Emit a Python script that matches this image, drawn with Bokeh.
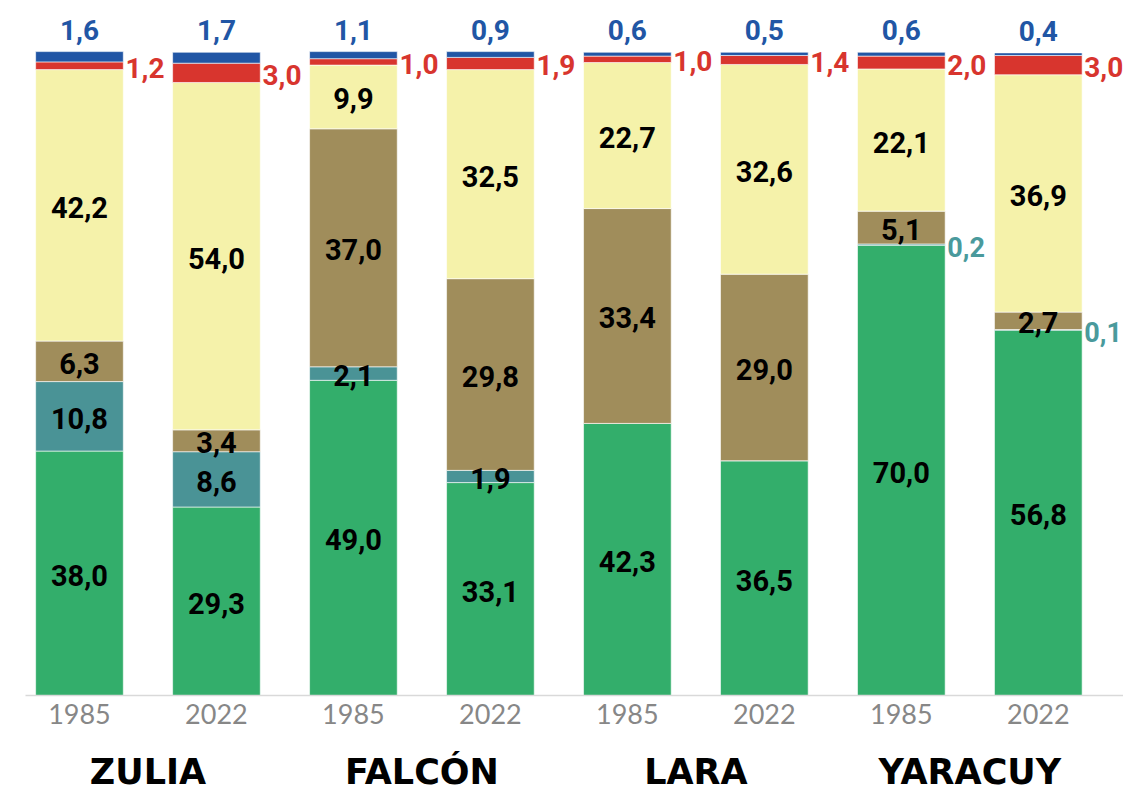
import numpy as np
from bokeh.plotting import figure
from bokeh.models import Range1d, ColumnDataSource, LinearAxis, FixedTicker
from bokeh.core.properties import value
from bokeh.embed import file_html
from bokeh.resources import INLINE

regions = ["ZULIA", "FALCÓN", "LARA", "YARACUY"]
years = ["1985", "2022"]
green = [38.0, 29.3, 49.0, 33.1, 42.3, 36.5, 70.0, 56.8]
teal = [10.8, 8.6, 2.1, 1.9, 0.0, 0.0, 0.2, 0.1]
brown = [6.3, 3.4, 37.0, 29.8, 33.4, 29.0, 5.1, 2.7]
yellow = [42.2, 54.0, 9.9, 32.5, 22.7, 32.6, 22.1, 36.9]
red = [1.2, 3.0, 1.0, 1.9, 1.0, 1.4, 2.0, 3.0]
blue = [1.6, 1.7, 1.1, 0.9, 0.6, 0.5, 0.6, 0.4]

series = ["green", "teal", "brown", "yellow", "red", "blue"]
colors = ["#33AE6B", "#4A9396", "#A08D5B", "#F5F2AA", "#D8352E", "#2156A5"]

labels = [y for r in regions for y in years]
xs = np.arange(len(labels), dtype=float)
gx = xs.reshape(len(regions), len(years)).mean(axis=1)

src = ColumnDataSource(dict(x=xs, green=green, teal=teal, brown=brown,
                            yellow=yellow, red=red, blue=blue))

p = figure(x_range=Range1d(-0.394, 7.622), y_range=Range1d(0, 106.8),
           frame_width=1098, frame_height=687,
           output_backend="svg", toolbar_location=None,
           min_border_left=25, min_border_right=0, min_border_top=8,
           min_border_bottom=0, x_axis_type=None, y_axis_type=None)
p.vbar_stack(series, x="x", width=0.64, color=colors, source=src,
             line_color="white", line_width=0.6)

vals = np.array([green, teal, brown, yellow, red, blue])
tops = np.cumsum(vals, axis=0)
mids = tops - vals / 2

FONT = value("Roboto")
FS = "29px"
FS_OUT = "28px"

def fmt(v):
    return f"{v:.1f}".replace(".", ",")

# inside labels
ix, iy, it = [], [], []
for s in range(4):
    for i in range(len(xs)):
        v = vals[s, i]
        if v >= 1.0:
            ix.append(xs[i]); iy.append(mids[s, i]); it.append(fmt(v))
p.text(x=ix, y=iy, text=it, text_font=FONT, text_font_style="bold",
       text_font_size=FS, text_color="black", text_align="center",
       text_baseline="middle", y_offset=2)

# small teal labels to right
tx, ty, tt = [], [], []
for i in range(len(xs)):
    v = vals[1, i]
    if 0 < v < 1.0:
        tx.append(xs[i]); ty.append(mids[1, i]); tt.append(fmt(v))
p.text(x=tx, y=ty, text=tt, text_font=FONT, text_font_style="bold",
       text_font_size="27px", text_color="#4A9A9C", text_align="left",
       text_baseline="middle", x_offset=46, y_offset=2)

# red labels to right
p.text(x=xs, y=mids[4], text=[fmt(v) for v in red], text_font=FONT,
       text_font_style="bold", text_font_size=FS_OUT, text_color="#D8352E",
       text_align="left", text_baseline="middle", x_offset=46, y_offset=2)

# blue labels on top
p.text(x=xs, y=tops[5], text=[fmt(v) for v in blue], text_font=FONT,
       text_font_style="bold", text_font_size=FS_OUT, text_color="#2156A5",
       text_align="center", text_baseline="middle", y_offset=-22)

p.xgrid.visible = False
p.ygrid.visible = False
p.outline_line_color = None

ax = LinearAxis(ticker=FixedTicker(ticks=list(xs)),
                major_label_overrides={float(x): l for x, l in zip(xs, labels)})
ax.axis_line_color = "#D9D9D9"
ax.axis_line_width = 1.5
ax.major_tick_line_color = None
ax.minor_tick_line_color = None
ax.major_label_text_font = "Lato"
ax.major_label_text_font_size = "27px"
ax.major_label_text_color = "#878787"
ax.major_label_standoff = 2
p.add_layout(ax, "below")

gax = LinearAxis(ticker=FixedTicker(ticks=list(gx)),
                 major_label_overrides={float(x): r for x, r in zip(gx, regions)})
gax.axis_line_color = None
gax.major_tick_line_color = None
gax.minor_tick_line_color = None
gax.major_label_text_font = "DejaVu Sans"
gax.major_label_text_font_style = "bold"
gax.major_label_text_font_size = "35px"
gax.major_label_text_color = "black"
gax.major_label_standoff = 19
p.add_layout(gax, "below")

open("out.html", "w").write(file_html(p, INLINE))
